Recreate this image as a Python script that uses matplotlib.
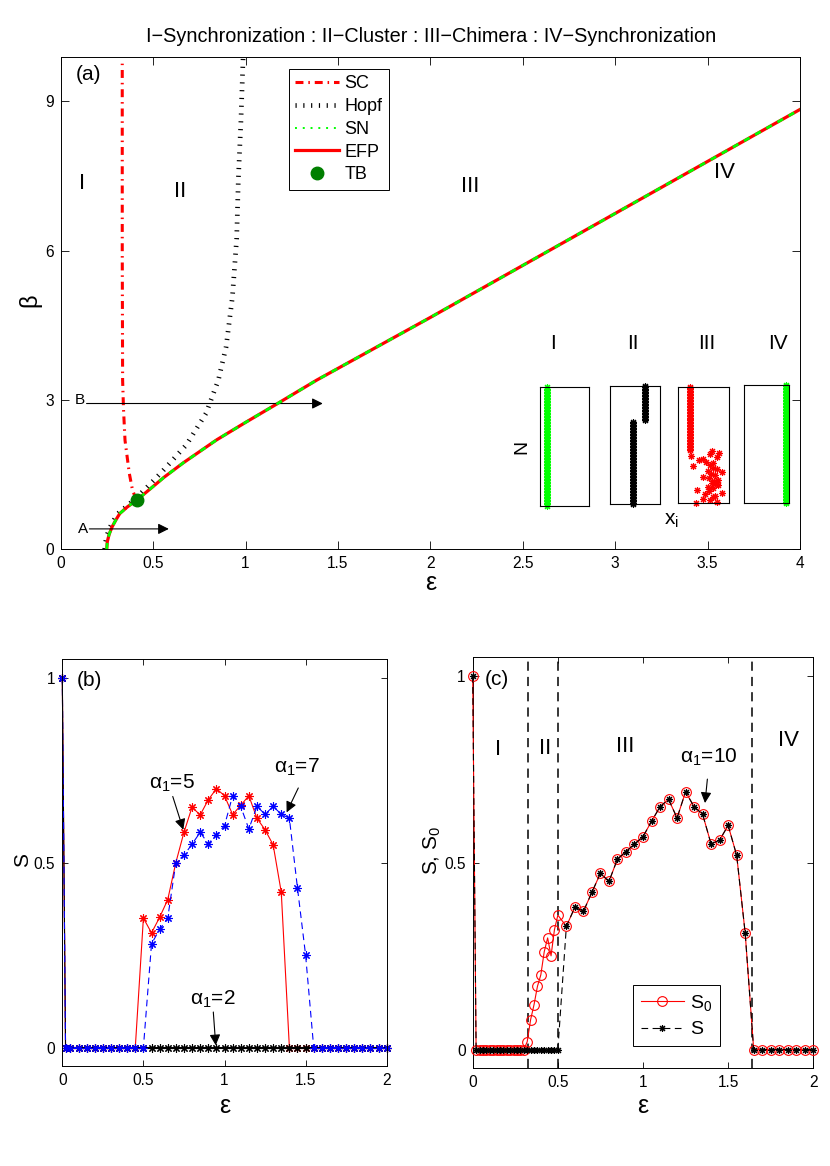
import numpy as np
import matplotlib
matplotlib.use('Agg')
import matplotlib.pyplot as plt
from matplotlib.lines import Line2D

plt.rcParams['font.family'] = ['Liberation Sans', 'DejaVu Sans']
plt.rcParams['mathtext.fontset'] = 'custom'
plt.rcParams['mathtext.rm'] = 'Liberation Sans'
plt.rcParams['mathtext.it'] = 'Liberation Sans'
plt.rcParams['mathtext.default'] = 'regular'

# ---------------- data: panel (a) ----------------
efp_eps = [0.249, 0.252, 0.262, 0.278, 0.300, 0.320, 0.360, 0.415, 0.483, 0.560, 0.664, 0.844,
           1.000, 1.169, 1.385, 2.000, 3.000, 4.000]
efp_beta = [0.00, 0.15, 0.30, 0.45, 0.60, 0.72, 0.85, 1.00, 1.21, 1.45, 1.74, 2.20,
            2.55, 2.92, 3.40, 4.66, 6.75, 8.84]
sn_eps = efp_eps
sn_beta = efp_beta

hopf_eps = [0.238, 0.243, 0.252, 0.268, 0.290, 0.310, 0.352, 0.405, 0.465, 0.546, 0.680,
            0.786, 0.853, 0.895, 0.929, 0.952, 0.961, 0.975, 0.987]
hopf_beta = [0.00, 0.15, 0.30, 0.45, 0.60, 0.72, 0.85, 1.02, 1.24, 1.55, 2.10,
             2.73, 3.40, 4.07, 5.07, 6.24, 7.42, 8.60, 9.90]

sc_eps = [0.415, 0.400, 0.388, 0.371, 0.348, 0.340, 0.335, 0.333, 0.333]
sc_beta = [1.00, 1.08, 1.20, 1.53, 2.19, 2.80, 3.40, 6.00, 9.76]

tb_eps = [0.415]
tb_beta = [1.00]

# insets: node positions x_i for N oscillators
N = 80
nodes = list(range(1, N + 1))
ins1_x = [0.15] * N
ins2_x = [0.46] * 56 + [0.70] * 24
ins3_x = [0.365, 0.767, 0.637, 0.507, 0.70, 0.735, 0.54, 0.865, 0.62, 0.377, 0.70, 0.605,
          0.80, 0.767, 0.67, 0.72, 0.80, 0.624, 0.495, 0.735, 0.66, 0.865, 0.605, 0.767,
          0.70, 0.30, 0.64, 0.70, 0.56, 0.43, 0.507, 0.78, 0.26, 0.637, 0.82, 0.67] + [0.25] * 44
ins4_x = [0.92] * N
inset_labels = ['I', 'II', 'III', 'IV']

# ---------------- data: panel (b) ----------------
b_eps = [0.00, 0.02, 0.05, 0.10, 0.15, 0.20, 0.25, 0.30, 0.35, 0.40, 0.45, 0.50, 0.55, 0.60,
         0.65, 0.70, 0.75, 0.80, 0.85, 0.90, 0.95, 1.00, 1.05, 1.10, 1.15, 1.20, 1.25, 1.30,
         1.35, 1.40, 1.45, 1.50, 1.55, 1.60, 1.65, 1.70, 1.75, 1.80, 1.85, 1.90, 1.95, 2.00]
b_S_a5 = [1.0, 0, 0, 0, 0, 0, 0, 0, 0, 0, 0,
          0.35, 0.31, 0.352, 0.40, 0.50, 0.582, 0.65, 0.629, 0.67, 0.70, 0.681, 0.63, 0.655,
          0.681, 0.62, 0.589, 0.548, 0.42,
          0, 0, 0, 0, 0, 0, 0, 0, 0, 0, 0, 0, 0]
b_S_a7 = [1.0, 0, 0, 0, 0, 0, 0, 0, 0, 0, 0, 0,
          0.28, 0.32, 0.35, 0.50, 0.52, 0.55, 0.582, 0.551, 0.575, 0.60, 0.681, 0.652, 0.591,
          0.652, 0.631, 0.652, 0.631, 0.62, 0.431, 0.25,
          0, 0, 0, 0, 0, 0, 0, 0, 0, 0]
b_S_a2 = [1.0] + [0] * 41

# ---------------- data: panel (c) ----------------
c_eps = [0.00, 0.02, 0.04, 0.06, 0.08, 0.10, 0.12, 0.14, 0.16, 0.18, 0.20, 0.22, 0.24, 0.26,
         0.28, 0.30, 0.32, 0.34, 0.36, 0.38, 0.40, 0.42, 0.44, 0.46, 0.48, 0.50,
         0.55, 0.60, 0.65, 0.70, 0.75, 0.80, 0.85, 0.90, 0.95, 1.00, 1.05, 1.10, 1.15, 1.20,
         1.25, 1.30, 1.35, 1.40, 1.45, 1.50, 1.55, 1.60, 1.65, 1.70, 1.75, 1.80, 1.85, 1.90,
         1.95, 2.00]
c_S0 = [1.0] + [0] * 15 + [0.021, 0.08, 0.12, 0.169, 0.20, 0.262, 0.299, 0.251, 0.321, 0.36,
        0.33, 0.381, 0.37, 0.421, 0.472, 0.45, 0.51, 0.53, 0.55, 0.57, 0.611, 0.65, 0.67, 0.62,
        0.69, 0.65, 0.63, 0.55, 0.561, 0.60, 0.52, 0.312] + [0] * 8
c_S = [1.0] + [0] * 15 + [0] * 10 + [
        0.33, 0.381, 0.37, 0.421, 0.472, 0.45, 0.51, 0.53, 0.55, 0.57, 0.611, 0.65, 0.67, 0.62,
        0.69, 0.65, 0.63, 0.55, 0.561, 0.60, 0.52, 0.312] + [0] * 8
c_bounds = [0.325, 0.50, 1.64]

title = 'I\u2212Synchronization : II\u2212Cluster : III\u2212Chimera : IV\u2212Synchronization'

# ---------------- figure ----------------
W, H = 830, 1166
fig = plt.figure(figsize=(W / 100, H / 100), dpi=100)

def ax_px(l, t, r, b):
    return [l / W, 1 - b / H, (r - l) / W, (b - t) / H]

AST = (8, 2, 0)

def style_axes(ax, ticklen):
    ax.tick_params(direction='in', top=True, right=True, length=ticklen, width=0.6,
                   labelsize=11.2, pad=5, colors='k')
    for s in ax.spines.values():
        s.set_linewidth(0.7)
        s.set_color('k')

# ---- panel (a)
axa = fig.add_axes(ax_px(60.7, 56.7, 800, 549.3))
axa.plot(hopf_eps, hopf_beta, color='k', lw=3.4, linestyle=(0, (0.25, 1.4)),
         dash_capstyle='butt', zorder=2)
axa.plot(efp_eps, efp_beta, color='#ff0000', lw=2.3, zorder=3)
axa.plot(sn_eps, sn_beta, color='#00ff00', lw=2.0, linestyle=(0, (2.3, 2.3)), zorder=4)
axa.plot(sc_eps, sc_beta, color='#ff0000', lw=2.2, linestyle=(0, (2.6, 1.6, 0.5, 1.6)), zorder=3)
axa.plot(tb_eps, tb_beta, 'o', color='#007f00', ms=9, zorder=5)
axa.set_xlim(0, 4)
axa.set_ylim(0, 9.9)
axa.set_xticks([0, 0.5, 1, 1.5, 2, 2.5, 3, 3.5, 4])
axa.set_xticklabels(['0', '0.5', '1', '1.5', '2', '2.5', '3', '3.5', '4'])
axa.set_yticks([0, 3, 6, 9])
style_axes(axa, 6)

# arrows A and B
axa.annotate('', xy=(1.418, 2.93), xytext=(0.14, 2.93),
             arrowprops=dict(arrowstyle='-|>', color='k', lw=0.8, mutation_scale=16,
                             shrinkA=0, shrinkB=0))
axa.annotate('', xy=(0.585, 0.41), xytext=(0.155, 0.41),
             arrowprops=dict(arrowstyle='-|>', color='k', lw=0.8, mutation_scale=16,
                             shrinkA=0, shrinkB=0))
axa.text(0.105, 3.0, 'B', fontsize=11, ha='center', va='center')
axa.text(0.119, 0.40, 'A', fontsize=11, ha='center', va='center')

for lab, x, y in [('I', 0.115, 7.36), ('II', 0.645, 7.2), ('III', 2.215, 7.3), ('IV', 3.59, 7.57)]:
    axa.text(x, y, lab, fontsize=16, ha='center', va='center')
axa.text(0.037, 0.963, '(a)', transform=axa.transAxes, fontsize=15, ha='center', va='center')
axa.text(0.5, -0.068, '\u03b5', transform=axa.transAxes, fontsize=18, ha='center', va='center')
axa.text(-0.0415, 0.506, '\u03b2', transform=axa.transAxes, fontsize=17, ha='center',
         va='center', rotation=90)

handles = [
    Line2D([], [], color='#ff0000', lw=2.2, linestyle=(0, (2.6, 1.6, 0.5, 1.6))),
    Line2D([], [], color='k', lw=3.4, linestyle=(0, (0.25, 1.4)), dash_capstyle='butt'),
    Line2D([], [], color='#00ff00', lw=1.4, linestyle=(0, (1, 3))),
    Line2D([], [], color='#ff0000', lw=2.3),
    Line2D([], [], color='#007f00', marker='o', ms=9, linestyle='none'),
]
leg = axa.legend(handles, ['SC', 'Hopf', 'SN', 'EFP', 'TB'], loc='upper left',
                 bbox_to_anchor=(0.309, 0.975), fontsize=13, frameon=True, fancybox=False,
                 edgecolor='k', framealpha=1, handlelength=2.4, handletextpad=0.3,
                 borderpad=0.35, labelspacing=0.32, borderaxespad=0)
leg.get_frame().set_linewidth(0.7)

# insets
ins_boxes = [(540, 387.3, 589.3, 505.7), (610.3, 385.7, 660, 504.3),
             (677.5, 386.5, 728.5, 503.2), (743.7, 385, 789.3, 503)]
ins_label_x = [552.7, 632.7, 706.7, 778.3]
ins_data = [(ins1_x, '#00ff00'), (ins2_x, 'k'), (ins3_x, '#ff0000'), (ins4_x, '#00ff00')]
for (l, t, r, b), (xs, col), lab, lx in zip(ins_boxes, ins_data, inset_labels, ins_label_x):
    axi = fig.add_axes(ax_px(l, t, r, b))
    axi.plot(xs, nodes, linestyle='none', marker=AST, ms=5, mew=0.8, color=col, clip_on=False)
    axi.set_xlim(0, 1)
    axi.set_ylim(1, N)
    axi.set_xticks([])
    axi.set_yticks([])
    for s in axi.spines.values():
        s.set_linewidth(0.8)
    fig.text(lx / W, 1 - 343.3 / H, lab, fontsize=15, ha='center', va='center')
fig.text(521.7 / W, 1 - 446.7 / H, 'N', fontsize=14, ha='center', va='center', rotation=90)
fig.text(671.7 / W, 1 - 520 / H, '$x_i$', fontsize=15, ha='center', va='center')

fig.text(431.5 / W, 1 - 37 / H, title, fontsize=14.3, ha='center', va='center')

# ---- panel (b)
axb = fig.add_axes(ax_px(62.3, 659.3, 386.7, 1066))
axb.plot(b_eps, b_S_a5, color='#ff0000', lw=0.8, marker=AST, ms=6, mew=0.8, clip_on=False)
axb.plot(b_eps, b_S_a2, color='k', lw=0.8, marker=AST, ms=6, mew=0.8, clip_on=False)
axb.plot(b_eps, b_S_a7, color='#0000ff', lw=0.8, linestyle=(0, (6, 4)), marker=AST, ms=6,
         mew=0.8, clip_on=False)
axb.set_xlim(0, 2)
axb.set_ylim(-0.05, 1.05)
axb.set_xticks([0, 0.5, 1, 1.5, 2])
axb.set_xticklabels(['0', '0.5', '1', '1.5', '2'])
axb.set_yticks([0, 0.5, 1])
axb.set_yticklabels(['0', '0.5', '1'])
style_axes(axb, 4)
arr = dict(arrowstyle='-|>', color='k', lw=0.8, mutation_scale=16, shrinkA=0, shrinkB=0)
axb.annotate('', xy=(0.746, 0.589), xytext=(0.681, 0.679), arrowprops=arr)
axb.annotate('', xy=(1.383, 0.636), xytext=(1.455, 0.702), arrowprops=arr)
axb.annotate('', xy=(0.946, 0.006), xytext=(0.931, 0.096), arrowprops=arr)
axb.text(0.674, 0.70, r'$\alpha_1$=5', fontsize=15, ha='center', va='baseline')
axb.text(1.445, 0.742, r'$\alpha_1$=7', fontsize=15, ha='center', va='baseline')
axb.text(0.931, 0.117, r'$\alpha_1$=2', fontsize=15, ha='center', va='baseline')
axb.text(0.083, 0.949, '(b)', transform=axb.transAxes, fontsize=15, ha='center', va='center')
axb.text(0.5, -0.098, '\u03b5', transform=axb.transAxes, fontsize=18, ha='center', va='center')
axb.text(-0.122, 0.507, 'S', transform=axb.transAxes, fontsize=15, ha='center', va='center',
         rotation=90)

# ---- panel (c)
axc = fig.add_axes(ax_px(472.7, 657.3, 813.3, 1068.3))
for xb in c_bounds:
    axc.axvline(xb, color='k', lw=1.1, linestyle=(0, (6, 4)), zorder=1)
l0, = axc.plot(c_eps, c_S0, color='#ff0000', lw=0.8, marker='o', ms=7, mfc='none',
               mec='#ff0000', mew=0.8, zorder=3, clip_on=False)
l1, = axc.plot(c_eps, c_S, color='k', lw=0.8, linestyle=(0, (6, 4)), marker=AST, ms=5,
               mew=0.8, zorder=4, clip_on=False)
axc.set_xlim(0, 2)
axc.set_ylim(-0.05, 1.05)
axc.set_xticks([0, 0.5, 1, 1.5, 2])
axc.set_xticklabels(['0', '0.5', '1', '1.5', '2'])
axc.set_yticks([0, 0.5, 1])
axc.set_yticklabels(['0', '0.5', '1'])
style_axes(axc, 4)
for lab, x, y in [('I', 0.15, 0.804), ('II', 0.425, 0.806), ('III', 0.898, 0.811),
                  ('IV', 1.853, 0.826)]:
    axc.text(x, y, lab, fontsize=16, ha='center', va='center')
axc.annotate('', xy=(1.364, 0.66), xytext=(1.378, 0.724), arrowprops=arr)
axc.text(1.384, 0.767, r'$\alpha_1$=10', fontsize=15, ha='center', va='baseline')
axc.text(0.0705, 0.945, '(c)', transform=axc.transAxes, fontsize=15, ha='center', va='center')
axc.text(0.5, -0.092, '\u03b5', transform=axc.transAxes, fontsize=18, ha='center', va='center')
axc.text(-0.117, 0.53, 'S, S$_0$', transform=axc.transAxes, fontsize=15, ha='center',
         va='center', rotation=90)
legc = axc.legend([l0, l1], ['S$_0$', 'S'], loc='lower left', bbox_to_anchor=(0.4715, 0.054),
                  fontsize=14, frameon=True, fancybox=False, edgecolor='k', framealpha=1,
                  handlelength=2.2, handletextpad=0.3, borderpad=0.4, labelspacing=0.4,
                  borderaxespad=0)
legc.get_frame().set_linewidth(0.7)

fig.savefig('out.png', dpi=100)
